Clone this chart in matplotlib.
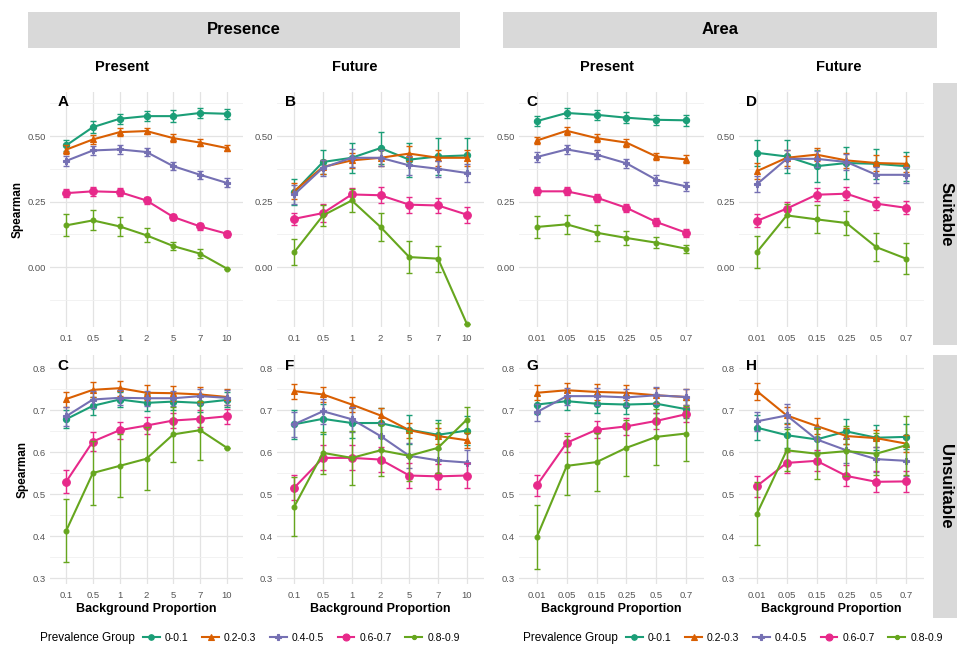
import numpy as np
import matplotlib
matplotlib.use("Agg")
import matplotlib.pyplot as plt
from matplotlib.lines import Line2D
from matplotlib.patches import Rectangle

plt.rcParams['font.family'] = ['Liberation Sans', 'DejaVu Sans']

## DATA
groups = ['0-0.1', '0.2-0.3', '0.4-0.5', '0.6-0.7', '0.8-0.9']
bg_presence = ['0.1', '0.5', '1', '2', '5', '7', '10']
bg_area = ['0.01', '0.05', '0.15', '0.25', '0.5', '0.7']

# rows = prevalence groups (same order as groups)
a_mean = [[0.464, 0.534, 0.566, 0.576, 0.576, 0.588, 0.585],
          [0.448, 0.487, 0.515, 0.519, 0.492, 0.475, 0.454],
          [0.405, 0.445, 0.449, 0.439, 0.385, 0.352, 0.321],
          [0.282, 0.289, 0.286, 0.254, 0.191, 0.155, 0.127],
          [0.159, 0.178, 0.155, 0.121, 0.080, 0.051, -0.006]]
a_err = [[0.022, 0.022, 0.020, 0.020, 0.022, 0.020, 0.020],
         [0.016, 0.017, 0.015, 0.013, 0.014, 0.014, 0.013],
         [0.018, 0.018, 0.016, 0.016, 0.016, 0.016, 0.017],
         [0.016, 0.016, 0.016, 0.015, 0.013, 0.013, 0.012],
         [0.042, 0.038, 0.036, 0.027, 0.015, 0.018, 0.0]]

b_mean = [[0.286, 0.401, 0.417, 0.454, 0.410, 0.422, 0.426],
          [0.290, 0.382, 0.407, 0.417, 0.433, 0.417, 0.417],
          [0.277, 0.379, 0.417, 0.417, 0.388, 0.375, 0.359],
          [0.184, 0.206, 0.277, 0.274, 0.238, 0.235, 0.200],
          [0.057, 0.197, 0.254, 0.153, 0.038, 0.032, -0.216]]
b_err = [[0.050, 0.045, 0.057, 0.060, 0.065, 0.070, 0.065],
         [0.030, 0.028, 0.030, 0.030, 0.030, 0.030, 0.030],
         [0.035, 0.030, 0.035, 0.030, 0.035, 0.030, 0.035],
         [0.022, 0.035, 0.025, 0.030, 0.030, 0.030, 0.030],
         [0.050, 0.040, 0.045, 0.052, 0.060, 0.050, 0.0]]

c_mean = [[0.557, 0.588, 0.581, 0.570, 0.562, 0.560],
          [0.483, 0.520, 0.492, 0.475, 0.422, 0.411],
          [0.420, 0.449, 0.429, 0.396, 0.333, 0.308],
          [0.289, 0.289, 0.265, 0.226, 0.172, 0.131],
          [0.153, 0.163, 0.131, 0.111, 0.093, 0.070]]
c_err = [[0.020, 0.020, 0.020, 0.020, 0.020, 0.020],
         [0.015, 0.015, 0.015, 0.015, 0.015, 0.015],
         [0.018, 0.018, 0.018, 0.018, 0.018, 0.018],
         [0.015, 0.015, 0.015, 0.015, 0.015, 0.015],
         [0.043, 0.035, 0.030, 0.025, 0.020, 0.015]]

d_mean = [[0.436, 0.422, 0.385, 0.397, 0.394, 0.385],
          [0.366, 0.417, 0.429, 0.407, 0.397, 0.394],
          [0.316, 0.413, 0.413, 0.401, 0.352, 0.352],
          [0.176, 0.223, 0.276, 0.280, 0.242, 0.226],
          [0.057, 0.197, 0.182, 0.168, 0.076, 0.032]]
d_err = [[0.050, 0.063, 0.060, 0.060, 0.057, 0.055],
         [0.030, 0.030, 0.025, 0.030, 0.030, 0.030],
         [0.030, 0.035, 0.030, 0.030, 0.030, 0.030],
         [0.025, 0.025, 0.025, 0.025, 0.025, 0.025],
         [0.060, 0.045, 0.053, 0.045, 0.054, 0.058]]

e_mean = [[0.678, 0.710, 0.725, 0.717, 0.720, 0.717, 0.724],
          [0.726, 0.748, 0.752, 0.741, 0.740, 0.737, 0.731],
          [0.685, 0.725, 0.729, 0.728, 0.728, 0.733, 0.729],
          [0.529, 0.625, 0.652, 0.663, 0.675, 0.679, 0.685],
          [0.412, 0.550, 0.567, 0.584, 0.642, 0.652, 0.610]]
e_err = [[0.022, 0.022, 0.018, 0.020, 0.020, 0.022, 0.018],
         [0.018, 0.018, 0.018, 0.018, 0.018, 0.018, 0.018],
         [0.022, 0.020, 0.018, 0.018, 0.018, 0.018, 0.018],
         [0.027, 0.023, 0.020, 0.020, 0.018, 0.020, 0.018],
         [0.075, 0.077, 0.075, 0.075, 0.065, 0.070, 0.0]]

f_mean = [[0.666, 0.679, 0.669, 0.669, 0.653, 0.641, 0.651],
          [0.745, 0.737, 0.713, 0.687, 0.652, 0.638, 0.628],
          [0.666, 0.697, 0.678, 0.638, 0.591, 0.580, 0.575],
          [0.515, 0.586, 0.586, 0.582, 0.544, 0.542, 0.544],
          [0.470, 0.598, 0.586, 0.604, 0.591, 0.610, 0.677]]
f_err = [[0.035, 0.035, 0.035, 0.035, 0.035, 0.035, 0.035],
         [0.018, 0.018, 0.018, 0.018, 0.018, 0.018, 0.018],
         [0.030, 0.030, 0.030, 0.030, 0.030, 0.030, 0.030],
         [0.030, 0.030, 0.030, 0.030, 0.030, 0.030, 0.030],
         [0.070, 0.050, 0.065, 0.060, 0.060, 0.060, 0.030]]

g_mean = [[0.713, 0.721, 0.715, 0.713, 0.715, 0.702],
          [0.741, 0.747, 0.743, 0.741, 0.735, 0.731],
          [0.695, 0.733, 0.733, 0.730, 0.735, 0.731],
          [0.521, 0.622, 0.653, 0.661, 0.674, 0.690],
          [0.398, 0.567, 0.576, 0.610, 0.636, 0.644]]
g_err = [[0.022, 0.022, 0.022, 0.022, 0.022, 0.022],
         [0.018, 0.018, 0.018, 0.018, 0.018, 0.018],
         [0.020, 0.020, 0.020, 0.020, 0.020, 0.020],
         [0.025, 0.023, 0.020, 0.020, 0.020, 0.018],
         [0.076, 0.070, 0.070, 0.066, 0.066, 0.066]]

h_mean = [[0.658, 0.640, 0.630, 0.649, 0.634, 0.636],
          [0.745, 0.687, 0.662, 0.638, 0.633, 0.620],
          [0.673, 0.687, 0.630, 0.604, 0.583, 0.579],
          [0.519, 0.574, 0.579, 0.543, 0.529, 0.530],
          [0.453, 0.604, 0.596, 0.602, 0.596, 0.616]]
h_err = [[0.030, 0.030, 0.030, 0.030, 0.030, 0.030],
         [0.020, 0.020, 0.020, 0.020, 0.020, 0.020],
         [0.022, 0.027, 0.030, 0.030, 0.030, 0.035],
         [0.025, 0.025, 0.025, 0.025, 0.025, 0.025],
         [0.075, 0.050, 0.060, 0.060, 0.050, 0.070]]

## STYLE
colors = ['#1B9E77', '#D95F02', '#7570B3', '#E7298A', '#66A61E']
markers = ['o', '^', 'P', 'o', 'o']
msizes = [4.5, 5, 4.5, 5.5, 3.5]
W, H = 957, 645
grid_major = '#E3E3E3'
grid_minor = '#F0F0F0'
tick_col = '#555555'

fig = plt.figure(figsize=(W / 100, H / 100), dpi=100)


def px_axes(l, t, r, b):
    return fig.add_axes([l / W, 1 - b / H, (r - l) / W, (b - t) / H])


def draw_panel(ax, cats, means, errs, letter, row, ylabel=False, xlabel=False):
    x = np.arange(len(cats))
    for i in range(len(groups)):
        ax.errorbar(x, means[i], yerr=errs[i], fmt='none', ecolor=colors[i],
                    elinewidth=1.0, capsize=2.5, capthick=1.0, zorder=2 + i)
        ax.plot(x, means[i], color=colors[i], lw=1.5, marker=markers[i],
                ms=msizes[i], mew=0.8, zorder=3 + i)
    ax.set_xlim(-0.6, len(cats) - 0.4)
    ax.set_xticks(x)
    ax.set_xticklabels(cats)
    if row == 0:
        ax.set_ylim(-0.23, 0.67)
        ax.set_yticks([0.0, 0.25, 0.50])
        ax.set_yticklabels(['0.00', '0.25', '0.50'])
        ax.set_yticks([-0.125, 0.125, 0.375, 0.625], minor=True)
    else:
        ax.set_ylim(0.285, 0.83)
        ax.set_yticks([0.3, 0.4, 0.5, 0.6, 0.7, 0.8])
        ax.set_yticklabels(['0.3', '0.4', '0.5', '0.6', '0.7', '0.8'])
        ax.set_yticks([0.35, 0.45, 0.55, 0.65, 0.75], minor=True)
    ax.grid(True, which='major', color=grid_major, lw=0.9)
    ax.grid(True, which='minor', axis='y', color=grid_minor, lw=0.6)
    ax.set_axisbelow(True)
    for s in ax.spines.values():
        s.set_visible(False)
    ax.tick_params(which='both', length=0, labelsize=6.8, labelcolor=tick_col)
    ax.tick_params(axis='x', pad=5)
    ax.tick_params(axis='y', pad=3)
    ax.text(0.04, 0.985, letter, transform=ax.transAxes, fontsize=11,
            fontweight='bold', va='top', ha='left')
    if ylabel:
        ax.set_ylabel('Spearman', fontsize=8.5, fontweight='bold', labelpad=3)
    if xlabel:
        ax.set_xlabel('Background Proportion', fontsize=9, fontweight='bold',
                      labelpad=2)


# column extents in pixels
cols = [(50, 243), (277, 484), (519, 704), (739, 924)]
rows = [(91.5, 327.3), (355.4, 584.3)]

panels = [
    (0, 0, bg_presence, a_mean, a_err, 'A'),
    (0, 1, bg_presence, b_mean, b_err, 'B'),
    (0, 2, bg_area, c_mean, c_err, 'C'),
    (0, 3, bg_area, d_mean, d_err, 'D'),
    (1, 0, bg_presence, e_mean, e_err, 'C'),
    (1, 1, bg_presence, f_mean, f_err, 'F'),
    (1, 2, bg_area, g_mean, g_err, 'G'),
    (1, 3, bg_area, h_mean, h_err, 'H'),
]
for r, c, cats, m, e, lab in panels:
    l, rr = cols[c]
    t, b = rows[r]
    ax = px_axes(l, t, rr, b)
    draw_panel(ax, cats, m, e, lab, r, ylabel=(c == 0), xlabel=(r == 1))

## STRIPS
strip_col = '#D9D9D9'
for (x0, x1, label) in [(28, 460, 'Presence'), (503, 937, 'Area')]:
    fig.patches.append(Rectangle((x0 / W, 1 - 48 / H), (x1 - x0) / W, 36 / H,
                                 transform=fig.transFigure, facecolor=strip_col,
                                 edgecolor='none'))
    fig.text((x0 + x1) / 2 / W, 1 - 30 / H, label, ha='center', va='center',
             fontsize=12, fontweight='bold')

for xc, label in [(122, 'Present'), (355, 'Future'), (607, 'Present'), (839, 'Future')]:
    fig.text(xc / W, 1 - 67 / H, label, ha='center', va='center',
             fontsize=10.5, fontweight='bold')

for (y0, y1, label) in [(83, 345, 'Suitable'), (355, 618, 'Unsuitable')]:
    fig.patches.append(Rectangle((933 / W, 1 - y1 / H), 30 / W, (y1 - y0) / H,
                                 transform=fig.transFigure, facecolor=strip_col,
                                 edgecolor='none'))
    fig.text(946 / W, 1 - (y0 + y1) / 2 / H, label, ha='center', va='center',
             rotation=270, fontsize=12, fontweight='bold')

## LEGENDS
handles = [Line2D([0], [0], color=colors[i], lw=1.5, marker=markers[i],
                  ms=msizes[i] - 0.5, mew=0.8) for i in range(len(groups))]
for x_title, x_leg in [(40, 143), (523, 626)]:
    fig.text(x_title / W, 1 - 638 / H, 'Prevalence Group', ha='left',
             va='center', fontsize=8.5)
    fig.legend(handles, groups, loc='center left',
               bbox_to_anchor=(x_leg / W, 1 - 638 / H), ncol=5, frameon=False,
               fontsize=7.5, handlelength=1.6, handletextpad=0.5,
               columnspacing=1.3, borderpad=0, borderaxespad=0)

plt.savefig('out.png', dpi=100)
